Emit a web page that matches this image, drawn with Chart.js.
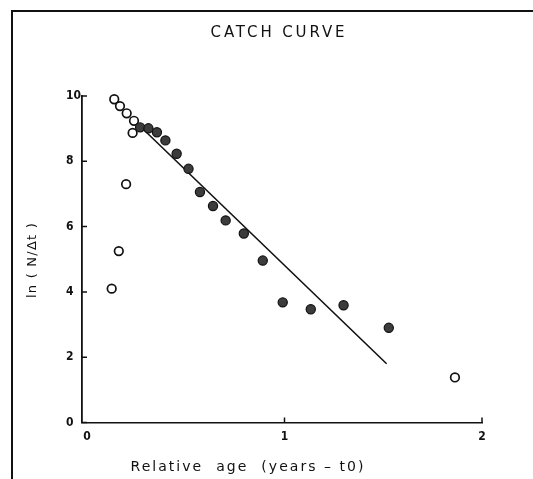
<!DOCTYPE html>
<html>
<head>
<meta charset="utf-8">
<script src="https://cdn.jsdelivr.net/npm/chart.js@4.4.1/dist/chart.umd.min.js"></script>
<style>
  html, body { margin: 0; padding: 0; background: #fff; }
  #wrap { position: relative; width: 533px; height: 479px; }
  #frame { position: absolute; left: 11px; top: 10px; right: 0; bottom: 0; border-left: 2px solid #111; border-top: 2px solid #111; pointer-events: none; }
  canvas { position: absolute; left: 0; top: 0; }
</style>
</head>
<body>
<div id="wrap">
  <canvas id="catchChart" width="533" height="479"></canvas>
  <div id="frame"></div>
</div>
<script>
// Catch curve.
const openAge = [0.125, 0.138, 0.161, 0.167, 0.198, 0.201, 0.231, 0.238, 1.863];
const openLn = [4.10, 9.90, 5.25, 9.69, 7.30, 9.47, 8.87, 9.24, 1.38];

const fitAge = [0.269, 0.311, 0.354, 0.397, 0.454, 0.514, 0.572, 0.638, 0.702, 0.794, 0.890, 0.991, 1.133, 1.299, 1.528];
const fitLn = [9.04, 9.01, 8.89, 8.64, 8.23, 7.77, 7.06, 6.63, 6.19, 5.79, 4.96, 3.68, 3.47, 3.59, 2.90];

const lineAge = [0.273, 1.517];
const lineLn = [9.05, 1.80];

const xTickValues = [0, 1, 2];
const yTickValues = [0, 2, 4, 6, 8, 10];

const titleText = "CATCH CURVE";
const xTitleText = "Relative  age  (years \u2013 t0)";
const yTitleText = "ln ( N/\u0394t )";

const tickFont = { family: "'Liberation Sans Narrow', 'DejaVu Sans Condensed', sans-serif", size: 12, weight: "bold" };

const toPoints = (xs, ys) => xs.map((x, i) => ({ x, y: ys[i] }));

// inward tick marks + titles, the scan has ticks pointing into the plot
const figureText = {
  id: "figureText",
  afterDraw(chart) {
    const { ctx, scales } = chart;
    const xs = scales.x, ys = scales.y;
    ctx.save();
    ctx.strokeStyle = "#111";
    ctx.lineWidth = 1.5;
    ctx.beginPath();
    yTickValues.forEach((v) => {
      const py = ys.getPixelForValue(v);
      ctx.moveTo(xs.left, py);
      ctx.lineTo(xs.left + 5, py);
    });
    xTickValues.slice(1).forEach((v) => {
      const px = xs.getPixelForValue(v);
      ctx.moveTo(px, ys.bottom);
      ctx.lineTo(px, ys.bottom - 5);
    });
    ctx.stroke();

    ctx.fillStyle = "#111";
    ctx.textAlign = "center";
    ctx.textBaseline = "middle";

    ctx.font = "15px 'DejaVu Sans'";
    fitSpaced(ctx, titleText, 137);
    ctx.fillText(titleText, 279, 33);

    ctx.font = "14px 'DejaVu Sans'";
    fitSpaced(ctx, xTitleText, 235);
    ctx.fillText(xTitleText, 248, 467);

    ctx.translate(33, 260);
    ctx.rotate(-Math.PI / 2);
    ctx.font = "13px 'DejaVu Sans'";
    fitSpaced(ctx, yTitleText, 76);
    ctx.fillText(yTitleText, 0, 0);
    ctx.restore();
  },
};

function fitSpaced(ctx, text, target) {
  ctx.letterSpacing = "0px";
  const w = ctx.measureText(text).width;
  const gap = Math.max(0, (target - w) / text.length);
  ctx.letterSpacing = gap.toFixed(2) + "px";
}

new Chart(document.getElementById("catchChart"), {
  type: "scatter",
  data: {
    datasets: [
      {
        label: "fit",
        type: "line",
        data: toPoints(lineAge, lineLn),
        borderColor: "#111",
        borderWidth: 1.6,
        pointRadius: 0,
        fill: false,
        clip: false,
        order: 3,
      },
      {
        label: "used",
        data: toPoints(fitAge, fitLn),
        backgroundColor: "#3c3c3c",
        borderColor: "#111",
        borderWidth: 1.2,
        pointRadius: 4.6,
        clip: false,
        order: 1,
      },
      {
        label: "excluded",
        data: toPoints(openAge, openLn),
        backgroundColor: "#fff",
        borderColor: "#111",
        borderWidth: 1.7,
        pointRadius: 4.3,
        clip: false,
        order: 2,
      },
    ],
  },
  options: {
    responsive: false,
    animation: false,
    layout: { padding: { top: 96, right: 51, left: 66, bottom: 0 } },
    plugins: { legend: { display: false }, tooltip: { enabled: false }, title: { display: false } },
    scales: {
      x: {
        type: "linear",
        min: -0.0253,
        max: 2,
        afterBuildTicks: (scale) => { scale.ticks = xTickValues.map((value) => ({ value })); },
        afterFit: (scale) => { scale.height = 56.5; },
        ticks: { color: "#111", font: tickFont, padding: 7 },
        grid: { display: true, drawOnChartArea: false, drawTicks: false },
        border: { display: true, color: "#111", width: 1.5 },
      },
      y: {
        min: 0,
        max: 10,
        afterBuildTicks: (scale) => { scale.ticks = yTickValues.map((value) => ({ value })); },
        afterFit: (scale) => { scale.width = 16; },
        ticks: { color: "#111", font: tickFont, padding: 4, crossAlign: "far" },
        grid: { display: true, drawOnChartArea: false, drawTicks: false },
        border: { display: true, color: "#111", width: 1.8 },
      },
    },
  },
  plugins: [figureText],
});
</script>
</body>
</html>
